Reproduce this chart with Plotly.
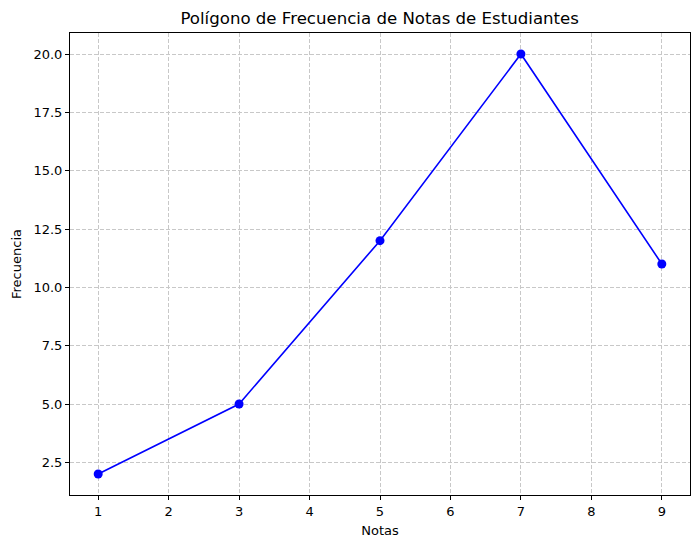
import plotly.graph_objects as go

notas = [1, 3, 5, 7, 9]
frecuencia = [2, 5, 12, 20, 11]
x_ticks = [1, 2, 3, 4, 5, 6, 7, 8, 9]
y_ticks = [2.5, 5.0, 7.5, 10.0, 12.5, 15.0, 17.5, 20.0]
y_tick_labels = ["2.5", "5.0", "7.5", "10.0", "12.5", "15.0", "17.5", "20.0"]

fig = go.Figure()
fig.add_trace(go.Scatter(
    x=notas, y=frecuencia, mode="lines+markers",
    line=dict(color="#0000ff", width=1.6),
    marker=dict(color="#0000ff", size=9),
    showlegend=False,
))

font = dict(family="DejaVu Sans", size=13, color="black")
axis_common = dict(
    showline=True, linecolor="black", linewidth=1, mirror=True,
    ticks="outside", ticklen=4, tickcolor="black", tickwidth=1,
    showgrid=True, gridcolor="#c8c8c8", griddash="4px,2px", gridwidth=1,
    zeroline=False, tickfont=font, automargin=False,
)
fig.update_layout(
    width=700, height=548,
    margin=dict(l=62, r=18, t=25, b=61),
    paper_bgcolor="white", plot_bgcolor="white",
    title=dict(text="Polígono de Frecuencia de Notas de Estudiantes",
               x=0.531, xanchor="center", y=0.982, yanchor="middle",
               font=dict(family="DejaVu Sans", size=16.6, color="black")),
    xaxis=dict(range=[0.6, 9.4], tickvals=x_ticks, **axis_common,
               title=dict(text="Notas", font=font, standoff=8)),
    yaxis=dict(range=[1.1, 20.9], tickvals=y_ticks, ticktext=y_tick_labels, **axis_common,
               title=dict(text="Frecuencia", font=font, standoff=8)),
)
fig.write_html("out.html")
